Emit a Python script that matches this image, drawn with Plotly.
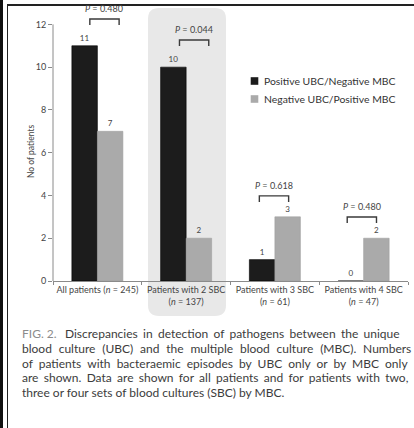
import plotly.graph_objects as go

# ---- data ----
categories = ["All patients (<i>n</i> = 245)",
              "Patients with 2 SBC<br>(<i>n</i> = 137)",
              "Patients with 3 SBC<br>(<i>n</i> = 61)",
              "Patients with 4 SBC<br>(<i>n</i> = 47)"]
series_names = ["Positive UBC/Negative MBC", "Negative UBC/Positive MBC"]
pos_ubc_neg_mbc = [11, 10, 1, 0]
neg_ubc_pos_mbc = [7, 2, 3, 2]
p_values = ["0.480", "0.044", "0.618", "0.480"]
y_ticks = [0, 2, 4, 6, 8, 10, 12]
caption_label = "FIG. 2."
caption_lines = [
    "Discrepancies in detection of pathogens between the unique",
    "blood culture (UBC) and the multiple blood culture (MBC). Numbers",
    "of patients with bacteraemic episodes by UBC only or by MBC only",
    "are shown. Data are shown for all patients and for patients with two,",
    "three or four sets of blood cultures (SBC) by MBC.",
]

# ---- layout constants ----
W, H = 414, 428
ML, MR, MT, MB = 53, 6, 3, 147
PW, PH = W - ML - MR, H - MT - MB
YMAX = 13


def px_x(px):
    return (px - ML) / PW


def px_y(py):
    return (H - MB - py) / PH


FONT = "Lato"
TXT = "#444444"
AX = "#8a8a8a"
BLACK = "#1c1c1c"
GREY = "#aaaaaa"

xs = list(range(len(categories)))

fig = go.Figure()
fig.add_trace(go.Bar(x=xs, y=pos_ubc_neg_mbc, name=series_names[0],
                     marker=dict(color=BLACK, line=dict(color="#000000", width=0.6)),
                     text=[str(v) for v in pos_ubc_neg_mbc], textposition="outside",
                     textfont=dict(size=8, color=TXT, family=FONT), cliponaxis=False,
                     showlegend=False))
fig.add_trace(go.Bar(x=xs, y=neg_ubc_pos_mbc, name=series_names[1],
                     marker=dict(color=GREY, line=dict(color="#a0a0a0", width=0.6)),
                     text=[str(v) for v in neg_ubc_pos_mbc], textposition="outside",
                     textfont=dict(size=8, color=TXT, family=FONT), cliponaxis=False,
                     showlegend=False))

shapes = []
annotations = []

# shaded rounded box behind group 2
x0, x1 = px_x(148), px_x(226)
y0, y1 = px_y(316), px_y(8)
rx, ry = 11 / PW, 11 / PH
path = (f"M{x0+rx},{y1} L{x1-rx},{y1} Q{x1},{y1} {x1},{y1-ry} "
        f"L{x1},{y0+ry} Q{x1},{y0} {x1-rx},{y0} L{x0+rx},{y0} "
        f"Q{x0},{y0} {x0},{y0+ry} L{x0},{y1-ry} Q{x0},{y1} {x0+rx},{y1} Z")
shapes.append(dict(type="path", xref="paper", yref="paper", path=path,
                   fillcolor="#e8e8e8", line=dict(width=0), layer="below"))

# y-axis line only up to 12
shapes.append(dict(type="line", xref="paper", yref="y", x0=0, x1=0, y0=0, y1=max(y_ticks),
                   line=dict(color=AX, width=1)))

# P-value brackets
bracket_level = [12.25, 11.27, 3.98, 2.99]
bracket_shift = [0.08, 0.09, -0.01, -0.02]
half = 0.165
leg = 0.28
for i, p in enumerate(p_values):
    c = xs[i] + bracket_shift[i]
    yt = bracket_level[i]
    shapes.append(dict(type="path", xref="x", yref="y",
                       path=f"M{c-half},{yt-leg} L{c-half},{yt} L{c+half},{yt} L{c+half},{yt-leg}",
                       line=dict(color="#3a3a3a", width=1.4)))
    annotations.append(dict(x=c, y=yt + 0.5, xref="x", yref="y", text=f"<i>P</i> = {p}",
                            showarrow=False, font=dict(size=9, color=TXT, family=FONT),
                            xanchor="center", yanchor="middle"))

# manual legend
leg_colors = [BLACK, GREY]
leg_y = [81, 99]
for name, col, ly in zip(series_names, leg_colors, leg_y):
    shapes.append(dict(type="rect", xref="paper", yref="paper",
                       x0=px_x(250.7), x1=px_x(258.3), y0=px_y(ly + 3.8), y1=px_y(ly - 3.8),
                       fillcolor=col, line=dict(width=0)))
    annotations.append(dict(x=px_x(262), y=px_y(ly), xref="paper", yref="paper", text=name,
                            showarrow=False, xanchor="left", yanchor="middle",
                            font=dict(size=10.4, color="#333333", family=FONT)))

# y-axis title
annotations.append(dict(x=px_x(31), y=px_y(152), xref="paper", yref="paper",
                        text="No of patients", textangle=-90, showarrow=False,
                        font=dict(size=8.5, color=TXT, family=FONT),
                        xanchor="center", yanchor="middle"))

# frame lines
shapes.append(dict(type="rect", xref="paper", yref="paper",
                   x0=px_x(0), x1=px_x(3), y0=px_y(H), y1=px_y(0),
                   fillcolor="#111111", line=dict(width=0)))
shapes.append(dict(type="line", xref="paper", yref="paper",
                   x0=px_x(7.5), x1=px_x(7.5), y0=px_y(H), y1=px_y(5),
                   line=dict(color="#222222", width=1)))
shapes.append(dict(type="line", xref="paper", yref="paper",
                   x0=px_x(7), x1=px_x(W), y0=px_y(5), y1=px_y(5),
                   line=dict(color="#222222", width=2)))

# caption (approximate full justification with extra unicode spaces)
THIN, HAIR = "\u2009", "\u200a"
cap_gap = [" " + THIN + HAIR,
           " " + THIN + THIN + HAIR,
           " " + THIN + THIN,
           " " + THIN + HAIR,
           " "]
cap_y = [333, 348, 363, 377, 392]
for k, (line, gap, cy) in enumerate(zip(caption_lines, cap_gap, cap_y)):
    txt = gap.join(line.split(" "))
    if k == 0:
        txt = f"<span style='color:#8c8c8c'>{caption_label}</span>" + gap + THIN + THIN + txt
    annotations.append(dict(x=px_x(20), y=px_y(cy), xref="paper", yref="paper", text=txt,
                            showarrow=False, xanchor="left", yanchor="middle",
                            font=dict(size=12, color="#3c3c3c", family=FONT)))

fig.update_layout(
    width=W, height=H,
    margin=dict(l=ML, r=MR, t=MT, b=MB, pad=0),
    paper_bgcolor="white", plot_bgcolor="rgba(0,0,0,0)",
    barmode="group", bargap=0.425, bargroupgap=0,
    shapes=shapes, annotations=annotations,
    font=dict(family=FONT, color=TXT),
    showlegend=False,
)
fig.update_xaxes(range=[-0.5, 3.5], tickmode="array", tickvals=xs, ticktext=categories,
                 ticks="", showline=True, linecolor=AX, linewidth=1, showgrid=False,
                 zeroline=False, tickfont=dict(size=9, color=TXT, family=FONT),
                 minor=dict(ticks="outside", ticklen=3, tickcolor=AX, tickmode="array",
                            tickvals=[-0.5, 0.5, 1.5, 2.5, 3.5], showgrid=False))
fig.update_yaxes(range=[0, YMAX], tickmode="array", tickvals=y_ticks, ticks="outside",
                 ticklen=4, tickcolor=AX, showline=False, showgrid=False, zeroline=False,
                 tickfont=dict(size=9, color=TXT, family=FONT))

fig.write_html("out.html")
